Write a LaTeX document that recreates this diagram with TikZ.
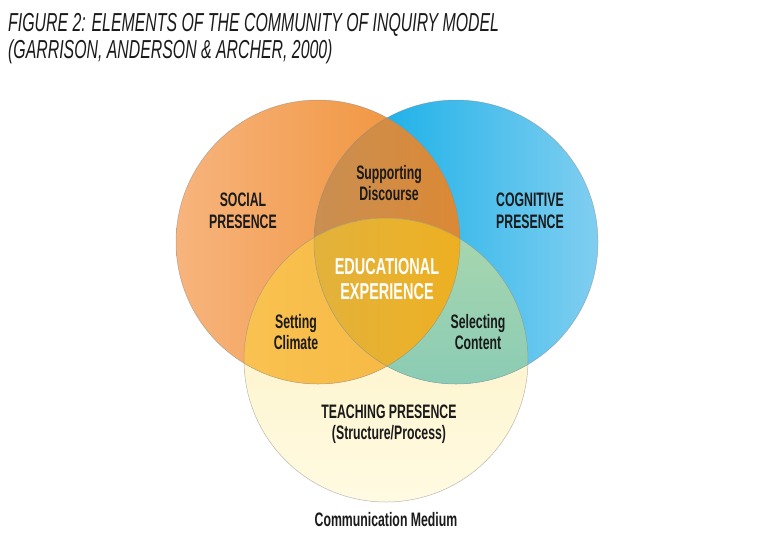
\documentclass[tikz,border=0pt]{standalone}
\usepackage{fontspec}
\setmainfont{Liberation Sans}[FakeStretch=0.63]
\newfontfamily\ttlfont{Liberation Sans}[FakeStretch=0.61]
\usetikzlibrary{positioning}
\definecolor{ink}{HTML}{1A1A1A}
\definecolor{rim}{HTML}{8A8A8A}
\definecolor{socL}{HTML}{F7B47D}
\definecolor{socR}{HTML}{EF8E30}
\definecolor{cogL}{HTML}{00A9E6}
\definecolor{cogR}{HTML}{80CEF0}
\definecolor{scL}{HTML}{C98F52}
\definecolor{scR}{HTML}{EE8318}
\definecolor{tchT}{HTML}{FDF1BE}
\definecolor{tchB}{HTML}{FFFAE2}
\definecolor{stL}{HTML}{F9C250}
\definecolor{stR}{HTML}{F5B13A}
\definecolor{ctT}{HTML}{ABD7AE}
\definecolor{ctB}{HTML}{74C4B9}
\definecolor{ctrL}{HTML}{DDB348}
\definecolor{ctrR}{HTML}{F3AF16}
\tikzset{
  lbl/.style={font=\bfseries\fontsize{19.5}{21.5}\selectfont, text=ink, align=center, inner sep=1pt},
  edu/.style={font=\bfseries\fontsize{23}{25}\selectfont, text=white, align=center, inner sep=1pt},
  ttl/.style={font=\ttlfont\itshape\fontsize{26}{27.5}\selectfont, text=ink, align=left,
              anchor=north west, inner sep=0pt},
  % ---- circle outlines ----
  rimline/.style={draw=rim, line width=0.5pt, draw opacity=0.6},
}
\newcommand{\rr}{142}

\begin{document}
\begin{tikzpicture}[x=1pt, y=-1pt]
\useasboundingbox (0,0) rectangle (776,555);
% centres of the three presences
\coordinate (soc) at (318,242);
\coordinate (cog) at (456,242);
\coordinate (tch) at (386,360);
% ---- whole circles ----
\shade[top color=tchT, bottom color=tchB] (tch) circle[radius=\rr];
\shade[left color=cogL, right color=cogR] (cog) circle[radius=\rr];
\shade[left color=socL, right color=socR] (soc) circle[radius=\rr];
% ---- pairwise overlaps ----
\begin{scope}
  \clip (soc) circle[radius=\rr];
  \shade[left color=scL, right color=scR] (cog) circle[radius=\rr];
  \shade[left color=stL, right color=stR] (tch) circle[radius=\rr];
\end{scope}
\begin{scope}
  \clip (cog) circle[radius=\rr];
  \shade[top color=ctT, bottom color=ctB] (tch) circle[radius=\rr];
\end{scope}
% ---- centre ----
\begin{scope}
  \clip (soc) circle[radius=\rr];
  \clip (cog) circle[radius=\rr];
  \shade[left color=ctrL, right color=ctrR] (tch) circle[radius=\rr];
\end{scope}
\foreach \c in {tch,soc,cog}{ \path[rimline] (\c) circle[radius=\rr]; }
% ---- texts ----
\node[ttl] (title) at (8,13) {FIGURE 2: ELEMENTS OF THE COMMUNITY OF INQUIRY MODEL\\
  (GARRISON, ANDERSON \& ARCHER, 2000)};
\node[lbl] (social) at (243,211) {SOCIAL\\PRESENCE};
\node[lbl] (cognitive) at (530,211) {COGNITIVE\\PRESENCE};
\node[lbl] (discourse) at (389,183) {Supporting\\Discourse};
\node[edu] (experience) at (387,279) {EDUCATIONAL\\EXPERIENCE};
\node[lbl] (climate) at (296,332) {Setting\\Climate};
\node[lbl] (content) at (478,332) {Selecting\\Content};
\node[lbl] (teaching) at (389,424) {TEACHING PRESENCE\\(Structure/Process)};
\node[lbl] (medium) at (386,520) {Communication Medium};
\end{tikzpicture}
\end{document}
